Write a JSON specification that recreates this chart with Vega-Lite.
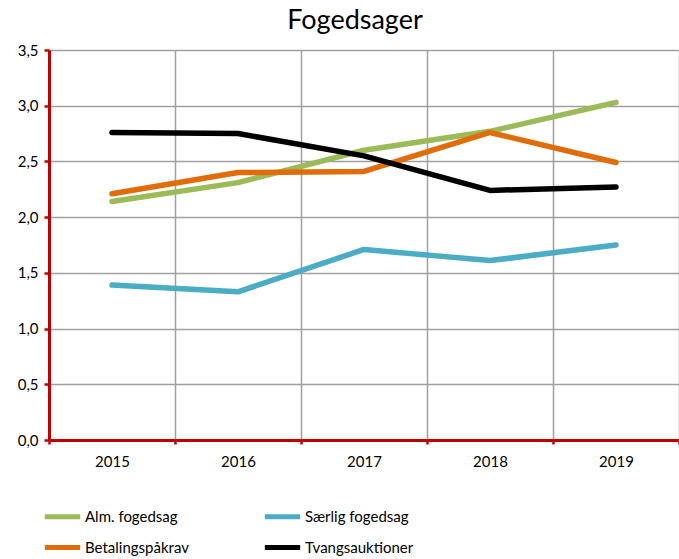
{
  "$schema": "https://vega.github.io/schema/vega-lite/v6.json",
  "width": 630,
  "height": 390,
  "autosize": {"type": "none"},
  "padding": {"left": 49, "top": 50, "right": 0, "bottom": 119},
  "background": "white",
  "config": {"view": {"stroke": null}, "font": "Lato"},
  "title": {"text": "Fogedsager", "fontSize": 27, "fontWeight": "normal", "font": "Lato", "color": "black", "offset": 8, "dx": -9},
  "data": {
    "values": [
      {"year": 2015, "series": "Alm. fogedsag", "value": 2.14},
      {"year": 2016, "series": "Alm. fogedsag", "value": 2.31},
      {"year": 2017, "series": "Alm. fogedsag", "value": 2.60},
      {"year": 2018, "series": "Alm. fogedsag", "value": 2.77},
      {"year": 2019, "series": "Alm. fogedsag", "value": 3.03},
      {"year": 2015, "series": "Særlig fogedsag", "value": 1.39},
      {"year": 2016, "series": "Særlig fogedsag", "value": 1.33},
      {"year": 2017, "series": "Særlig fogedsag", "value": 1.71},
      {"year": 2018, "series": "Særlig fogedsag", "value": 1.61},
      {"year": 2019, "series": "Særlig fogedsag", "value": 1.75},
      {"year": 2015, "series": "Betalingspåkrav", "value": 2.21},
      {"year": 2016, "series": "Betalingspåkrav", "value": 2.40},
      {"year": 2017, "series": "Betalingspåkrav", "value": 2.41},
      {"year": 2018, "series": "Betalingspåkrav", "value": 2.76},
      {"year": 2019, "series": "Betalingspåkrav", "value": 2.49},
      {"year": 2015, "series": "Tvangsauktioner", "value": 2.76},
      {"year": 2016, "series": "Tvangsauktioner", "value": 2.75},
      {"year": 2017, "series": "Tvangsauktioner", "value": 2.55},
      {"year": 2018, "series": "Tvangsauktioner", "value": 2.24},
      {"year": 2019, "series": "Tvangsauktioner", "value": 2.27}
    ]
  },
  "resolve": {"axis": {"x": "independent"}},
  "layer": [
    {
      "mark": {"type": "line", "opacity": 0},
      "encoding": {
        "x": {"field": "year", "type": "quantitative", "scale": {"domain": [2014.5, 2019.5], "nice": false, "zero": false},
          "axis": {"orient": "bottom", "values": [2014.5, 2015.5, 2016.5, 2017.5, 2018.5, 2019.5], "labels": false, "title": null,
            "grid": true, "gridColor": "#a0a0a0", "gridWidth": 1.5, "gridOpacity": 1,
            "ticks": true, "tickColor": "#c00000", "tickWidth": 2.5, "tickSize": 4,
            "domain": true, "domainColor": "#c00000", "domainWidth": 3, "zindex": 0}},
        "y": {"field": "value", "type": "quantitative", "scale": {"domain": [0, 3.5], "nice": false},
          "axis": {"values": [0, 0.5, 1, 1.5, 2, 2.5, 3, 3.5], "title": null,
            "labelExpr": "replace(format(datum.value, '.1f'), '.', ',')",
            "labelFontSize": 15, "labelColor": "black", "labelPadding": 6, "labelFont": "Lato",
            "grid": true, "gridColor": "#a0a0a0", "gridWidth": 1.5, "gridOpacity": 1,
            "tickColor": "#c00000", "tickWidth": 2.5, "tickSize": 5,
            "domainColor": "#c00000", "domainWidth": 3}},
        "detail": {"field": "series"}
      }
    },
    {
      "mark": {"type": "line", "strokeWidth": 5.5, "strokeCap": "round", "strokeJoin": "round"},
      "encoding": {
        "x": {"field": "year", "type": "quantitative", "scale": {"domain": [2014.5, 2019.5], "nice": false, "zero": false},
          "axis": {"orient": "bottom", "values": [2015, 2016, 2017, 2018, 2019], "format": "d", "title": null,
            "grid": false, "ticks": false, "domain": false, "labelFontSize": 15, "labelColor": "black", "labelPadding": 14, "labelFont": "Lato"}},
        "y": {"field": "value", "type": "quantitative", "scale": {"domain": [0, 3.5], "nice": false},
          "axis": {"values": [0, 0.5, 1, 1.5, 2, 2.5, 3, 3.5], "title": null,
            "labelExpr": "replace(format(datum.value, '.1f'), '.', ',')",
            "labelFontSize": 15, "labelColor": "black", "labelPadding": 6, "labelFont": "Lato",
            "grid": true, "gridColor": "#a0a0a0", "gridWidth": 1.5, "gridOpacity": 1,
            "tickColor": "#c00000", "tickWidth": 2.5, "tickSize": 5,
            "domainColor": "#c00000", "domainWidth": 3}},
        "color": {"field": "series", "type": "nominal",
          "scale": {"domain": ["Alm. fogedsag", "Særlig fogedsag", "Betalingspåkrav", "Tvangsauktioner"],
                    "range": ["#9bbb59", "#4bacc6", "#e36c0a", "#000000"]},
          "legend": {"orient": "none", "legendX": -7, "legendY": 446, "direction": "horizontal", "columns": 2, "title": null,
            "symbolType": "stroke", "symbolSize": 1250, "symbolStrokeWidth": 5, "labelFontSize": 15, "labelColor": "black",
            "labelOffset": 2, "columnPadding": 65, "rowPadding": -3, "labelFont": "Lato", "symbolOpacity": 1}},
        "detail": {"field": "series"}
      }
    }
  ]
}
